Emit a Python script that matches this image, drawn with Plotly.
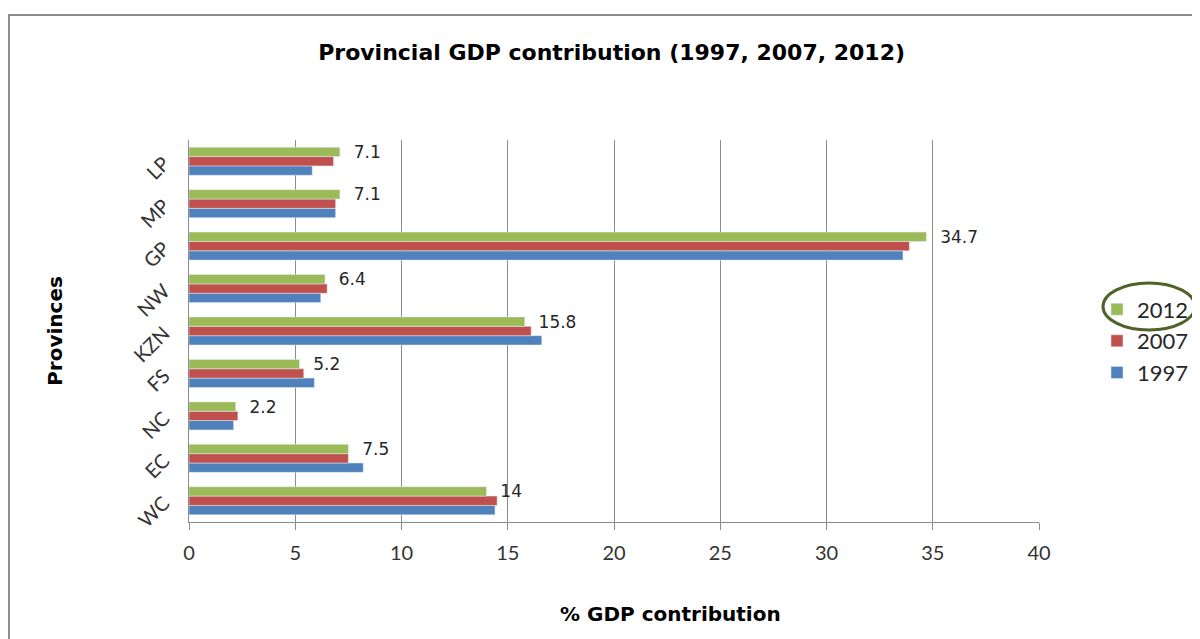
import plotly.graph_objects as go

provinces = ["WC", "EC", "NC", "FS", "KZN", "NW", "GP", "MP", "LP"]
gdp_1997 = [14.4, 8.2, 2.1, 5.9, 16.6, 6.2, 33.6, 6.9, 5.8]
gdp_2007 = [14.5, 7.5, 2.3, 5.4, 16.1, 6.5, 33.9, 6.9, 6.8]
gdp_2012 = [14.0, 7.5, 2.2, 5.2, 15.8, 6.4, 34.7, 7.1, 7.1]
labels_2012 = ["14", "7.5", "2.2", "5.2", "15.8", "6.4", "34.7", "7.1", "7.1"]

fig = go.Figure()
fig.add_trace(go.Bar(y=provinces, x=gdp_1997, name="1997", orientation="h",
                     marker=dict(color="#4F81BD")))
fig.add_trace(go.Bar(y=provinces, x=gdp_2007, name="2007", orientation="h",
                     marker=dict(color="#C0504D")))
fig.add_trace(go.Bar(y=provinces, x=gdp_2012, name="2012", orientation="h",
                     marker=dict(color="#9BBB59"),
                     text=["  " + t for t in labels_2012], textposition="outside",
                     constraintext="none",
                     textfont=dict(family="DejaVu Sans", size=17, color="#262626"),
                     cliponaxis=False))

fig.update_layout(
    width=1200, height=639,
    margin=dict(l=181, r=169, t=132, b=125, autoexpand=False),
    paper_bgcolor="white", plot_bgcolor="white",
    barmode="group", bargap=0.34, bargroupgap=0,
    showlegend=True,
    title=dict(text="<b>Provincial GDP contribution (1997, 2007, 2012)</b>",
               x=0.503, xanchor="center", y=0.931, yanchor="middle",
               font=dict(family="DejaVu Sans", size=22, color="black")),
    legend=dict(xref="container", yref="container", x=0.9075, xanchor="left",
                y=0.479, yanchor="middle",
                traceorder="reversed", bgcolor="rgba(0,0,0,0)",
                font=dict(family="Lato", size=22, color="#262626"),
                itemwidth=30, tracegroupgap=0),
    xaxis=dict(range=[0, 40], dtick=5, showgrid=True, gridcolor="#8C8C8C", gridwidth=1,
               showline=True, linecolor="#8C8C8C", linewidth=1,
               ticks="outside", ticklen=7, tickcolor="#8C8C8C",
               ticklabelstandoff=6,
               tickfont=dict(family="Lato", size=20, color="#333"),
               zeroline=False, automargin=False),
    yaxis=dict(showline=True, linecolor="#8C8C8C", linewidth=1,
               tickangle=-45, ticks="", ticklabelstandoff=20, automargin=False,
               tickfont=dict(family="Lato", size=20, color="#333"),
               title=dict(text="<b>Provinces</b>", standoff=60,
                          font=dict(family="DejaVu Sans", size=20, color="black"))),
    annotations=[
        dict(text="<b>% GDP contribution</b>", xref="paper", yref="paper",
             x=0.567, y=-0.241, xanchor="center", yanchor="middle", showarrow=False,
             font=dict(family="DejaVu Sans", size=20, color="black")),
    ],
    shapes=[
        dict(type="rect", xref="paper", yref="paper",
             x0=-0.2118, x1=1.195, y0=-0.33, y1=1.327,
             line=dict(color="#8C8C8C", width=2), fillcolor="rgba(0,0,0,0)"),
        dict(type="circle", xref="paper", yref="paper",
             x0=1.0753, x1=1.1835, y0=0.5026, y1=0.6257,
             line=dict(color="#4F6228", width=3)),
    ],
)

fig.write_html("out.html")
